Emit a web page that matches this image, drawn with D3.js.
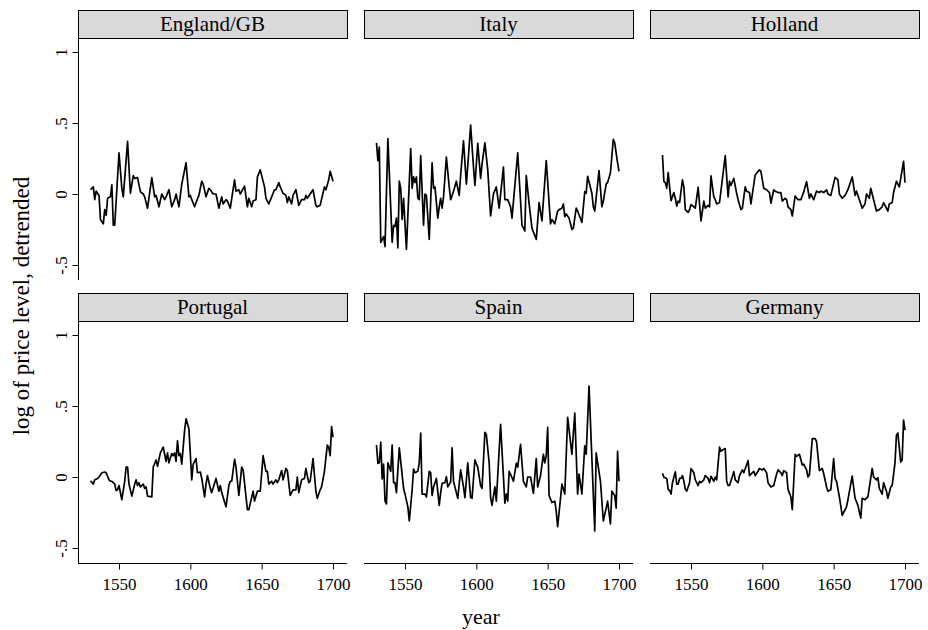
<!DOCTYPE html>
<html>
<head>
<meta charset="utf-8">
<script src="https://cdn.jsdelivr.net/npm/d3@7"></script>
<style>
  html, body { margin: 0; padding: 0; background: #fff; }
  svg { display: block; }
  text { font-family: "Liberation Serif", "DejaVu Serif", serif; fill: #000; }
</style>
</head>
<body>
<svg id="chart" width="928" height="630"></svg>
<script>
// Detrended log price levels, 1530-1700
const countries = ["England/GB", "Italy", "Holland", "Portugal", "Spain", "Germany"];

const englandYears = [1530,1532,1533,1534,1536,1537,1539,1540,1541,1542,1544,1545,1546,1547,1550,1552,1553,1556,1558,1560,1561,1563,1565,1567,1568,1570,1573,1575,1576,1578,1580,1582,1583,1585,1587,1589,1590,1592,1594,1597,1599,1600,1601,1603,1604,1606,1608,1609,1611,1613,1614,1616,1618,1620,1622,1623,1625,1626,1628,1631,1632,1634,1635,1638,1640,1641,1643,1644,1646,1647,1649,1652,1653,1655,1657,1659,1660,1662,1663,1665,1667,1668,1669,1671,1672,1674,1676,1678,1680,1681,1682,1684,1686,1688,1689,1691,1694,1695,1697,1698,1700];
const englandValues = [0.03,0.05,-0.04,0.02,-0.01,-0.18,-0.21,-0.11,-0.15,-0.03,-0.02,0.065,-0.22,-0.22,0.29,0.04,-0.02,0.37,0.005,0.13,0.11,0.115,0.016,0.0,-0.02,-0.1,0.115,-0.02,-0.01,-0.09,0.0,-0.04,-0.02,0.03,-0.09,-0.04,0.0,-0.09,0.07,0.22,-0.02,-0.01,-0.04,-0.09,-0.06,-0.01,0.09,0.07,-0.02,0.04,0.03,0.0,0.0,-0.1,-0.02,-0.07,-0.04,-0.05,-0.1,0.1,0.02,0.03,0.0,0.056,-0.09,-0.03,-0.09,-0.05,-0.04,0.12,0.17,0.05,-0.03,-0.07,-0.02,0.03,0.03,0.08,0.05,0.005,-0.01,-0.06,-0.02,-0.07,-0.01,0.03,-0.08,-0.04,-0.04,-0.01,-0.03,0.0,0.03,-0.08,-0.09,-0.08,0.05,0.03,0.1,0.16,0.09];

const italyYears = [1530,1531,1532,1533,1535,1536,1538,1541,1542,1543,1544,1545,1546,1547,1548,1549,1551,1554,1555,1556,1557,1558,1559,1560,1561,1563,1564,1565,1567,1569,1570,1571,1573,1574,1575,1576,1577,1579,1581,1582,1584,1586,1588,1589,1591,1593,1594,1596,1598,1599,1601,1603,1604,1606,1608,1610,1612,1614,1616,1619,1620,1622,1624,1625,1629,1632,1634,1635,1637,1639,1642,1644,1646,1649,1652,1653,1655,1657,1658,1660,1661,1662,1663,1665,1667,1668,1670,1671,1674,1676,1677,1678,1681,1682,1683,1686,1688,1689,1691,1692,1694,1696,1697,1699,1700];
const italyValues = [0.36,0.235,0.33,-0.34,-0.3,-0.37,0.39,-0.34,-0.22,-0.23,-0.17,-0.38,0.09,0.04,-0.18,-0.03,-0.39,0.32,0.04,0.12,0.08,0.12,-0.03,-0.04,0.27,-0.22,0.0,-0.01,-0.32,0.22,0.04,0.05,-0.17,-0.09,-0.03,-0.1,-0.02,0.26,0.05,-0.04,0.02,0.09,-0.01,0.13,0.375,0.07,0.2,0.485,0.19,0.06,0.357,0.11,0.21,0.36,0.17,-0.155,0.0,0.05,-0.1,0.19,-0.04,-0.04,-0.09,-0.17,0.29,-0.22,-0.26,0.13,-0.07,-0.24,-0.32,-0.06,-0.19,0.235,-0.21,-0.18,-0.21,-0.12,-0.11,-0.1,-0.07,-0.16,-0.14,-0.17,-0.25,-0.24,-0.1,-0.12,-0.2,0.016,0.005,0.125,0.005,-0.09,-0.12,0.165,-0.09,-0.05,0.07,0.08,0.15,0.385,0.36,0.22,0.16];

const hollandYears = [1530,1531,1532,1533,1534,1536,1538,1539,1540,1541,1542,1544,1545,1546,1548,1549,1550,1552,1553,1555,1557,1559,1560,1562,1563,1564,1566,1567,1568,1570,1574,1576,1577,1578,1580,1582,1583,1585,1586,1588,1589,1591,1592,1595,1596,1598,1599,1601,1603,1605,1606,1608,1609,1611,1613,1614,1616,1617,1618,1620,1621,1623,1625,1627,1629,1631,1633,1634,1636,1638,1640,1641,1643,1645,1646,1648,1651,1653,1654,1656,1658,1660,1661,1663,1665,1666,1667,1670,1672,1673,1675,1676,1678,1680,1682,1684,1685,1686,1688,1689,1691,1692,1694,1695,1696,1699,1700];
const hollandValues = [0.275,0.087,0.08,0.04,0.15,-0.047,0.01,-0.03,-0.085,-0.05,-0.06,0.1,0.05,-0.11,-0.13,-0.11,-0.075,-0.09,-0.1,0.047,-0.19,-0.05,-0.1,-0.08,-0.09,0.127,-0.02,-0.04,-0.07,-0.06,0.27,-0.02,0.09,0.06,0.11,0.005,-0.04,-0.11,-0.1,0.05,0.02,0.01,-0.07,0.134,0.146,0.17,0.16,0.04,0.03,0.01,-0.065,0.03,0.02,0.01,0.01,-0.05,-0.03,-0.04,-0.09,-0.11,-0.155,-0.014,-0.04,-0.04,0.015,0.087,-0.03,0.0,-0.04,0.02,0.01,0.02,0.01,0.03,0.0,-0.01,0.117,0.1,0.0,-0.03,-0.01,0.03,0.06,0.12,-0.01,0.02,-0.01,-0.1,-0.07,0.0,-0.03,0.04,-0.04,-0.12,-0.11,-0.09,-0.06,-0.08,-0.12,-0.07,-0.06,0.01,0.09,0.07,0.05,0.23,0.08];

const portugalYears = [1530,1532,1533,1535,1536,1538,1540,1541,1543,1544,1545,1547,1548,1549,1550,1552,1554,1555,1556,1557,1559,1561,1562,1563,1564,1565,1567,1568,1569,1570,1573,1574,1576,1577,1579,1581,1582,1583,1584,1585,1587,1588,1589,1590,1591,1592,1593,1594,1596,1597,1599,1601,1602,1604,1605,1607,1608,1610,1611,1612,1614,1615,1618,1620,1621,1622,1625,1627,1628,1629,1631,1632,1634,1636,1637,1640,1641,1644,1645,1647,1649,1651,1653,1654,1655,1657,1658,1660,1661,1662,1664,1665,1667,1668,1670,1672,1674,1675,1676,1678,1680,1681,1683,1684,1686,1688,1689,1691,1692,1694,1696,1697,1698,1699,1700];
const portugalValues = [-0.026,-0.05,-0.02,-0.01,0.0,0.03,0.035,0.03,-0.02,-0.03,-0.03,-0.05,-0.095,-0.09,-0.06,-0.16,-0.03,0.07,0.07,-0.05,-0.135,-0.05,-0.02,-0.06,-0.04,-0.07,-0.05,-0.08,-0.07,-0.135,-0.14,0.07,0.12,0.075,0.17,0.21,0.16,0.11,0.17,0.1,0.165,0.15,0.17,0.11,0.255,0.15,0.165,0.09,0.33,0.41,0.34,-0.02,0.09,0.13,0.03,0.035,-0.01,-0.14,-0.05,0.01,-0.08,-0.11,-0.01,-0.1,-0.06,-0.11,-0.21,-0.06,-0.03,-0.03,0.125,0.07,-0.13,0.07,0.05,-0.23,-0.23,-0.1,-0.17,-0.1,-0.1,0.15,0.04,0.04,-0.05,-0.03,-0.05,-0.02,-0.04,-0.02,0.045,-0.02,0.06,0.045,-0.13,-0.09,-0.09,0.0,-0.11,-0.02,-0.01,0.06,-0.04,-0.03,0.13,-0.1,-0.15,-0.09,-0.07,0.04,0.225,0.21,0.15,0.355,0.28];

const spainYears = [1530,1531,1532,1533,1534,1535,1536,1537,1538,1540,1541,1542,1543,1544,1546,1547,1549,1550,1552,1553,1555,1556,1557,1559,1560,1561,1562,1564,1565,1567,1568,1569,1570,1572,1574,1575,1576,1578,1579,1580,1582,1583,1584,1586,1587,1589,1591,1592,1594,1596,1597,1599,1601,1603,1604,1606,1607,1609,1610,1611,1613,1614,1617,1620,1621,1622,1623,1625,1626,1628,1629,1631,1633,1635,1636,1638,1640,1642,1643,1645,1647,1648,1649,1650,1651,1653,1655,1656,1657,1660,1662,1664,1667,1669,1671,1672,1674,1676,1677,1679,1683,1684,1687,1689,1691,1692,1694,1695,1697,1698,1699,1700];
const spainValues = [0.225,0.096,0.1,0.245,-0.014,0.09,-0.17,-0.19,0.1,0.04,0.225,-0.04,-0.04,-0.11,0.205,0.11,-0.08,-0.12,-0.21,-0.31,-0.09,0.056,0.03,0.04,0.1,0.31,-0.12,-0.12,-0.14,0.04,0.03,-0.13,-0.07,-0.01,-0.2,-0.11,-0.045,-0.04,0.003,-0.07,-0.035,0.205,-0.03,-0.11,-0.15,0.05,-0.07,-0.145,0.1,-0.145,-0.15,0.12,0.07,-0.06,-0.08,0.315,0.3,0.1,-0.145,-0.2,-0.07,-0.17,0.37,-0.185,-0.12,-0.17,0.04,-0.005,-0.03,0.096,0.07,0.23,-0.03,-0.07,0.0,0.0,-0.115,0.13,-0.07,0.01,0.16,0.1,0.15,0.35,-0.13,-0.18,-0.17,-0.24,-0.35,-0.05,-0.12,0.42,0.16,0.45,-0.12,0.02,-0.12,0.22,0.16,0.64,-0.38,0.17,-0.03,-0.31,-0.22,-0.17,-0.33,-0.1,-0.13,-0.22,0.18,-0.03];

const germanyYears = [1530,1531,1533,1534,1535,1536,1537,1539,1540,1541,1542,1543,1544,1545,1546,1547,1549,1550,1552,1553,1555,1556,1557,1559,1560,1562,1563,1564,1566,1567,1568,1570,1571,1572,1574,1575,1576,1577,1580,1581,1583,1584,1586,1587,1590,1591,1592,1594,1595,1597,1598,1600,1601,1603,1604,1606,1608,1610,1611,1613,1614,1615,1617,1618,1620,1621,1623,1624,1626,1628,1629,1631,1632,1633,1635,1637,1638,1640,1642,1643,1645,1646,1648,1650,1651,1652,1654,1656,1657,1659,1660,1663,1665,1667,1669,1670,1672,1674,1677,1678,1680,1681,1682,1684,1685,1687,1688,1690,1691,1693,1694,1695,1697,1698,1699,1700];
const germanyValues = [0.026,-0.002,-0.01,-0.087,-0.095,-0.12,-0.04,0.037,-0.05,-0.05,-0.01,-0.01,0.01,-0.03,-0.085,-0.1,-0.04,0.06,0.03,-0.02,-0.06,-0.03,-0.04,-0.02,0.01,-0.01,-0.04,0.005,-0.03,0.0,-0.02,0.21,0.18,0.19,0.2,-0.03,-0.06,-0.06,0.037,-0.02,-0.04,0.01,0.05,0.03,0.115,0.01,0.02,0.04,0.01,0.04,0.06,0.05,0.06,0.03,-0.04,-0.07,-0.06,0.02,0.05,0.03,0.01,0.045,0.03,-0.087,-0.14,-0.23,0.16,0.145,0.16,0.085,0.09,0.05,0.0,0.015,0.27,0.27,0.25,0.045,0.06,0.025,-0.07,-0.1,-0.09,0.13,-0.01,-0.03,-0.14,-0.27,-0.25,-0.21,-0.16,0.007,-0.15,-0.2,-0.29,-0.15,-0.16,-0.14,0.06,0.0,-0.02,-0.005,-0.08,-0.12,-0.04,-0.1,-0.15,-0.07,-0.06,0.1,0.295,0.31,0.105,0.12,0.4,0.33];

const seriesYears = [englandYears, italyYears, hollandYears, portugalYears, spainYears, germanyYears];
const seriesValues = [englandValues, italyValues, hollandValues, portugalValues, spainValues, germanyValues];

const xTicks = [1550, 1600, 1650, 1700];
const yTicks = [-0.5, 0, 0.5, 1];
const yTickLabels = ["-.5", "0", ".5", "1"];

const svg = d3.select("#chart");

// Facet grid geometry
const colLeft = [78, 364, 650];
const panelW = 269;
const stripH = 28;
const rowTop = [10, 293];
const plotH = 242;

drawPanels();

function drawPanels() {
  countries.forEach((name, i) => {
    const row = Math.floor(i / 3), col = i % 3;
    const x0 = colLeft[col];
    const stripTop = rowTop[row];
    const plotTop = stripTop + stripH;
    const plotBottom = plotTop + plotH;

    const x = d3.scaleLinear().domain([1550, 1700]).range([x0 + 41, x0 + 255]);
    const y = d3.scaleLinear().domain([-0.5, 1]).range([plotTop + 227, plotTop + 14]);

    const g = svg.append("g");

    // strip with country name
    g.append("rect")
      .attr("x", x0 + 0.5).attr("y", stripTop + 0.5)
      .attr("width", panelW).attr("height", stripH)
      .attr("fill", "#d9d9d9").attr("stroke", "#000").attr("stroke-width", 1);
    g.append("text")
      .attr("x", x0 + panelW / 2).attr("y", stripTop + 21)
      .attr("text-anchor", "middle").attr("font-size", 21)
      .text(name);

    // price series
    const pts = seriesYears[i].map((yr, k) => [yr, seriesValues[i][k]]);
    g.append("path")
      .datum(pts)
      .attr("fill", "none").attr("stroke", "#000")
      .attr("stroke-width", 1.7).attr("stroke-linejoin", "round")
      .attr("d", d3.line().x(d => x(d[0])).y(d => y(d[1])));

    // y axis on first column
    if (col === 0) {
      const ya = g.append("g").attr("transform", `translate(${x0 + 0.5},0)`)
        .call(d3.axisLeft(y).tickValues(yTicks).tickSize(6)
          .tickFormat((d, k) => yTickLabels[k]));
      ya.select(".domain").attr("d", `M0,${plotTop}V${plotBottom}`).attr("stroke-width", 1);
      ya.selectAll(".tick line").attr("stroke-width", 1);
      ya.selectAll(".tick text")
        .attr("font-family", "Liberation Serif, serif").attr("font-size", 17)
        .attr("transform", "rotate(-90)")
        .attr("x", 0).attr("y", -12).attr("dy", 0)
        .attr("text-anchor", "middle");
    }

    // x axis on bottom row
    if (row === 1) {
      const xa = g.append("g").attr("transform", `translate(0,${plotBottom + 0.5})`)
        .call(d3.axisBottom(x).tickValues(xTicks).tickSize(6).tickFormat(d3.format("d")));
      xa.select(".domain").attr("d", `M${x0},0H${x0 + panelW}`).attr("stroke-width", 1);
      xa.selectAll(".tick text")
        .attr("font-family", "Liberation Serif, serif").attr("font-size", 17)
        .attr("dy", "1.05em");
    }
  });
}

// axis titles
svg.append("text")
  .attr("x", 481).attr("y", 624)
  .attr("text-anchor", "middle").attr("font-size", 22)
  .text("year");
svg.append("text")
  .attr("transform", "translate(29,306) rotate(-90)")
  .attr("text-anchor", "middle").attr("font-size", 23)
  .text("log of price level, detrended");
</script>
</body>
</html>
